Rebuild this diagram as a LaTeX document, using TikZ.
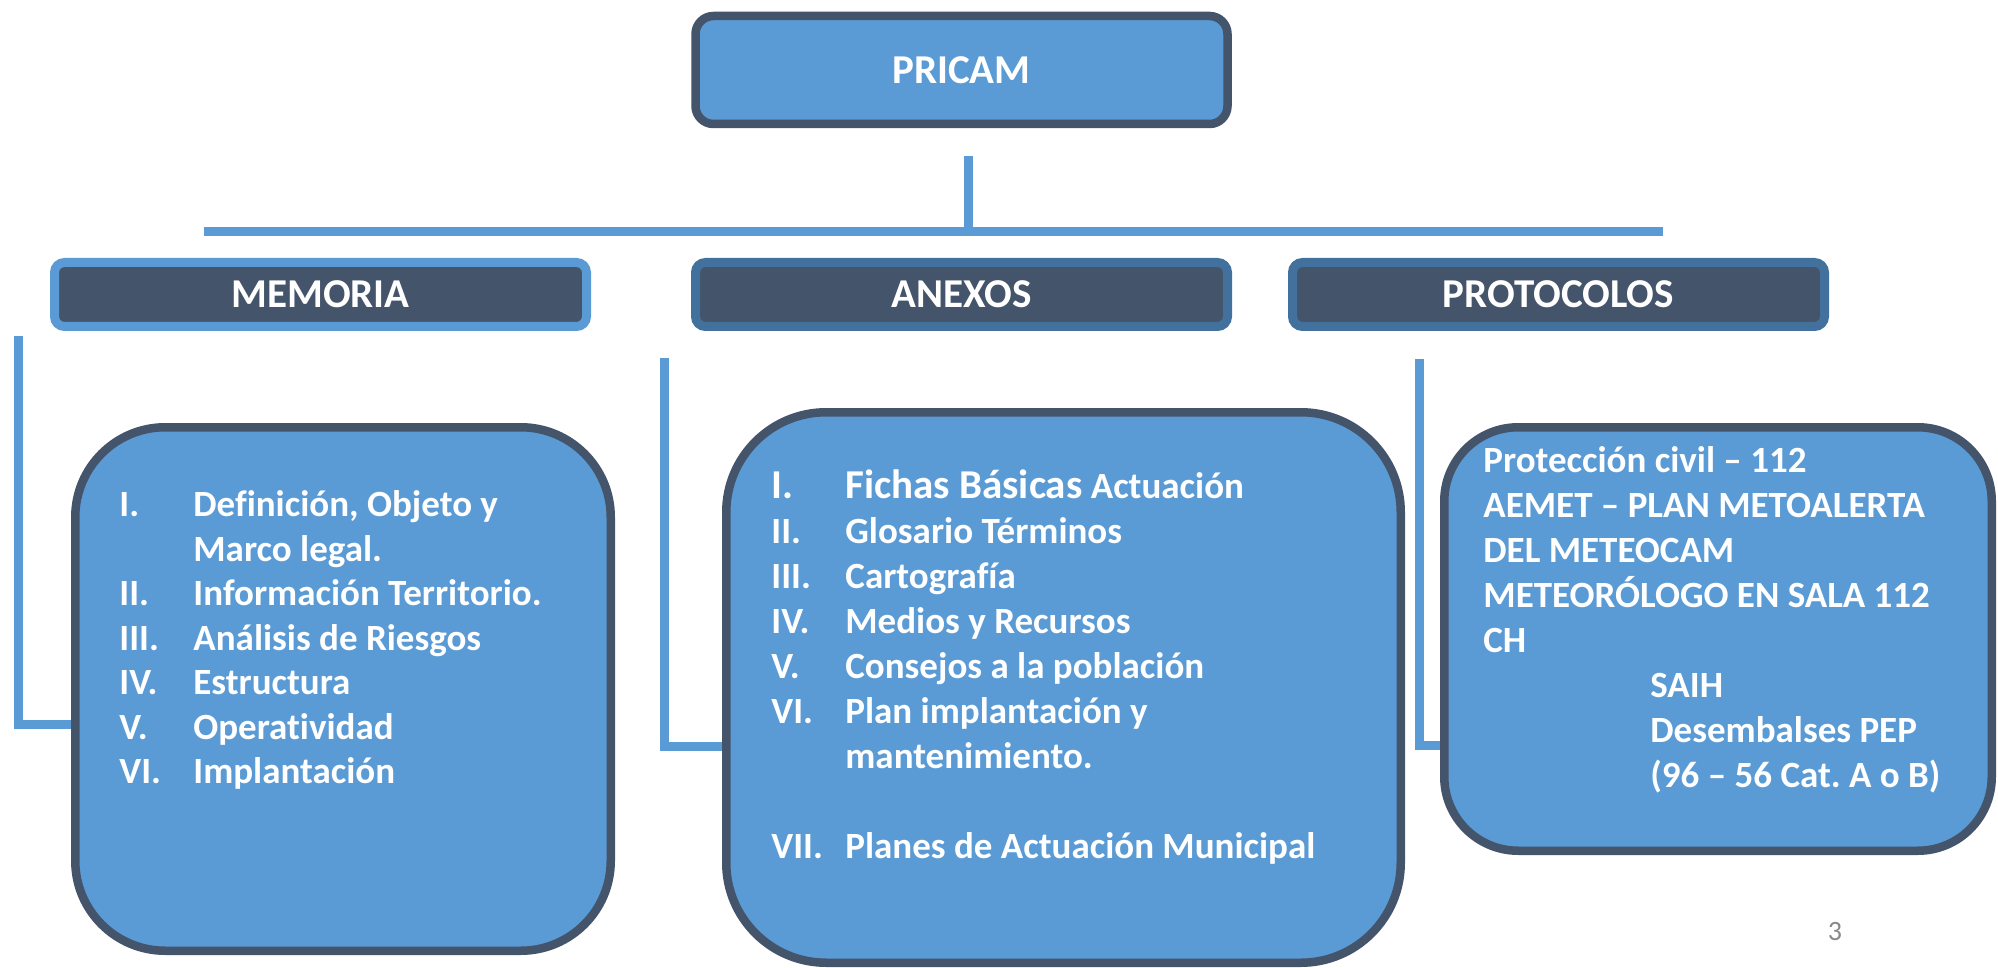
\documentclass[tikz,border=0pt]{standalone}
\usepackage{fontspec}
\setmainfont{Carlito}[Ligatures=NoCommon]
\usetikzlibrary{positioning,backgrounds}
\frenchspacing

\definecolor{pblue}{HTML}{5B9BD5}
\definecolor{pdark}{HTML}{44546A}
\definecolor{pmid}{HTML}{41719C}
\definecolor{pgray}{HTML}{898989}
\newcommand{\anxbig}{\fontsize{20.5}{22.5}\selectfont}

\begin{document}
\begin{tikzpicture}[x=0.5pt, y=-0.5pt,
  every node/.style={inner sep=0pt, text=white},
  topbox/.style={draw=pdark, fill=pblue, line width=4.25pt, rounded corners=9pt, minimum width=266pt, minimum height=54pt, font=\fontsize{20.5}{24}\selectfont\bfseries},
  headbox/.style={draw=#1, fill=pdark, line width=4.5pt, rounded corners=5pt, minimum width=266pt, minimum height=32pt, font=\fontsize{20.5}{24}\selectfont\bfseries},
  bodybox/.style={draw=pdark, fill=pblue, line width=4.25pt},
  listtext/.style={anchor=north west, align=left, font=\fontsize{18.5}{22.5}\selectfont\bfseries},
  link/.style={draw=pblue, line width=4.5pt}]

  \useasboundingbox (0,0) rectangle (1998,968);

  % Top box
  \node[topbox] (pricam) at (961.5,70) {PRICAM};

  % Second row: section headers
  \node[headbox=pblue] (memoria) at (320.5,294.5) {MEMORIA};
  \node[headbox=pmid] (anexos) at (961.5,294.5) {ANEXOS};
  \node[headbox=pmid] (protocolos) at (1558.5,294.5) {PROTOCOLOS};

  % Content boxes
  \node[bodybox, minimum width=267.75pt, minimum height=261.75pt, rounded corners=45pt] (memlist) at (343,689) {};
  \node[bodybox, minimum width=337.25pt, minimum height=275.25pt, rounded corners=50pt] (anxlist) at (1063.5,687.5) {};
  \node[bodybox, minimum width=273.75pt, minimum height=211.75pt, rounded corners=37pt] (protlist) at (1718,639) {};

  % Lists
  \node[listtext, font=\fontsize{18.5}{22.25}\selectfont\bfseries] (memtext) at (119,485) {%
    \begin{tabular}{@{}p{37pt}@{}l@{}}
    I.   & Definición, Objeto y\\
         & Marco legal.\\
    II.  & Información Territorio.\\
    III. & Análisis de Riesgos\\
    IV.  & Estructura\\
    V.   & Operatividad\\
    VI.  & Implantación
    \end{tabular}};
  \node[listtext] (anxtext) at (771,466.5) {%
    \begin{tabular}{@{}p{37pt}@{}l@{}}
    {\anxbig I.} & {\anxbig Fichas Básicas} Actuación\\
    II.  & Glosario Términos\\
    III. & Cartografía\\
    IV.  & Medios y Recursos\\
    V.   & Consejos a la población\\
    VI.  & Plan implantación y\\
         & mantenimiento.\\
         & \\
    VII. & Planes de Actuación Municipal
    \end{tabular}};
  \node[listtext] (prottext) at (1483,440.5) {%
    \begin{tabular}{@{}l@{}}
    Protección civil – 112\\
    AEMET – PLAN METOALERTA\\
    DEL METEOCAM\\
    METEORÓLOGO EN SALA 112\\
    CH\\
    \hspace*{83.5pt}SAIH\\
    \hspace*{83.5pt}Desembalses PEP\\
    \hspace*{83.5pt}(96 – 56 Cat. A o B)
    \end{tabular}};

  % Page number
  \node[text=pgray, font=\fontsize{14}{16}\selectfont] (pagenum) at (1835,932) {3};

  % Connectors behind the boxes
  \begin{scope}[on background layer]
    \fill[white] (0,0) rectangle (1998,968);
    \coordinate (trunktop) at (968,156);
    \coordinate (barL) at (204,232);
    \coordinate (barR) at (1663,232);
    \draw[link] (trunktop) -- (trunktop |- barL);
    \draw[link] (barL) -- (barR);
    \coordinate (memtop) at (18,336);
    \coordinate (memturn) at (18,724);
    \draw[link] (memtop) -- (memturn) -- (memturn -| memlist.west);
    \coordinate (anxtop) at (664,358);
    \coordinate (anxturn) at (664,746);
    \draw[link] (anxtop) -- (anxturn) -- (anxturn -| anxlist.west);
    \coordinate (prottop) at (1419,359);
    \coordinate (protturn) at (1419,745);
    \draw[link] (prottop) -- (protturn) -- (protturn -| protlist.west);
  \end{scope}
\end{tikzpicture}
\end{document}
